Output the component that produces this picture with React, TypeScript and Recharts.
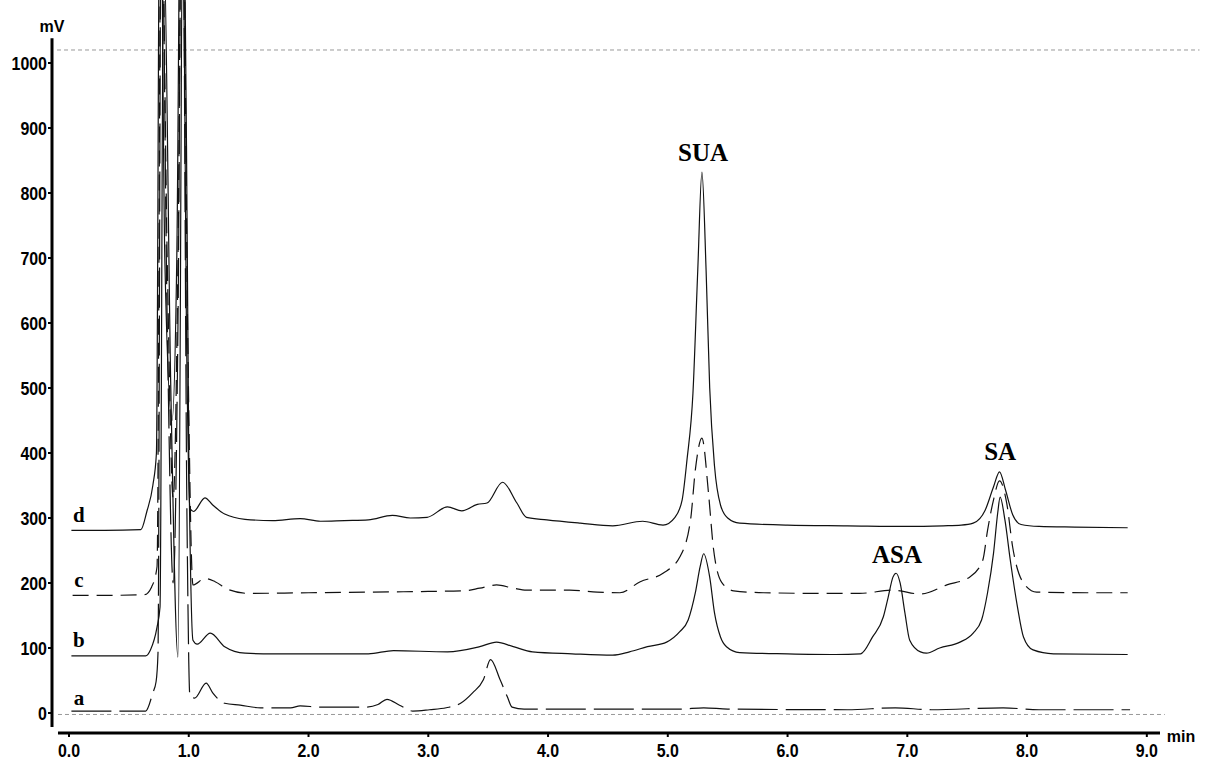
import { LineChart, Line, XAxis, YAxis, ReferenceLine, ReferenceDot } from 'recharts';

// time (min), signal (mV)
const traceA: [number, number][] = [
  [0.02, 3], [0.3, 3], [0.55, 3], [0.64, 3], [0.7, 31], [0.727, 48], [0.743, 92],
  [0.77, 1300], [0.82, 600], [0.87, 200], [0.91, 600], [0.945, 1400], [0.985, 300],
  [1.01, 25], [1.05, 23], [1.145, 46], [1.2, 31], [1.3, 15], [1.43, 12], [1.6, 8],
  [1.85, 8], [1.93, 11], [2.1, 9], [2.47, 9], [2.58, 13], [2.655, 21], [2.76, 12],
  [2.87, 3], [3.01, 5], [3.15, 8], [3.27, 15], [3.37, 31], [3.46, 51], [3.52, 82],
  [3.6, 51], [3.66, 25], [3.7, 9], [3.8, 6], [4.5, 6], [5.1, 6], [5.3, 8], [5.5, 6],
  [6.5, 5], [6.9, 8], [7.2, 5], [7.8, 8], [8.1, 5], [8.86, 5],
];

const traceB: [number, number][] = [
  [0.02, 88], [0.3, 88], [0.64, 88], [0.68, 97], [0.735, 132], [0.76, 163],
  [0.79, 1200], [0.85, 500], [0.91, 86], [0.955, 1400], [1.0, 400], [1.035, 112],
  [1.07, 106], [1.18, 123], [1.3, 102], [1.47, 92], [1.7, 91], [2.0, 91], [2.5, 91],
  [2.71, 96], [3.16, 94], [3.43, 102], [3.57, 109], [3.71, 102], [3.87, 94], [4.2, 91],
  [4.54, 89], [4.68, 94], [4.83, 102], [4.99, 109], [5.1, 125], [5.17, 143],
  [5.23, 185], [5.27, 225], [5.3, 245], [5.35, 209], [5.39, 154], [5.44, 117],
  [5.49, 102], [5.6, 93], [6.0, 91], [6.4, 90], [6.61, 91], [6.71, 117], [6.8, 148],
  [6.84, 178], [6.88, 209], [6.906, 215], [6.94, 200], [6.98, 154], [7.02, 112],
  [7.11, 94], [7.16, 92], [7.27, 100], [7.44, 109], [7.55, 123], [7.62, 143],
  [7.67, 185], [7.72, 246], [7.755, 308], [7.775, 332], [7.815, 297], [7.86, 235],
  [7.92, 163], [7.97, 117], [8.05, 97], [8.22, 91], [8.84, 90],
];

const traceC: [number, number][] = [
  [0.03, 181], [0.3, 181], [0.63, 182], [0.69, 194], [0.735, 225], [0.77, 1300],
  [0.82, 700], [0.87, 330], [0.91, 700], [0.945, 1400], [0.99, 600], [1.035, 197],
  [1.135, 207], [1.22, 202], [1.33, 190], [1.5, 184], [2.0, 185], [2.5, 186],
  [3.0, 187], [3.3, 188], [3.43, 192], [3.57, 197], [3.71, 192], [3.82, 189],
  [4.18, 189], [4.41, 186], [4.6, 185], [4.77, 202], [4.96, 215], [5.1, 240],
  [5.19, 297], [5.23, 374], [5.285, 423], [5.34, 338], [5.38, 255], [5.45, 201],
  [5.55, 188], [5.8, 185], [6.3, 184], [6.6, 184], [6.88, 189], [7.11, 183],
  [7.33, 197], [7.52, 209], [7.63, 235], [7.67, 281], [7.72, 328], [7.77, 357],
  [7.83, 323], [7.88, 255], [7.97, 200], [8.08, 186], [8.5, 185], [8.84, 185],
];

const traceD: [number, number][] = [
  [0.02, 281], [0.3, 281], [0.6, 282], [0.65, 310], [0.7, 350], [0.73, 400],
  [0.76, 1400], [0.8, 700], [0.86, 450], [0.9, 700], [0.94, 1500], [0.98, 600],
  [1.01, 315], [1.04, 310], [1.135, 331], [1.2, 320], [1.3, 306], [1.47, 298],
  [1.7, 296], [1.93, 299], [2.1, 295], [2.3, 296], [2.5, 297], [2.7, 304], [2.85, 300],
  [2.99, 301], [3.16, 317], [3.28, 311], [3.41, 321], [3.49, 323], [3.62, 355],
  [3.74, 323], [3.82, 301], [3.99, 297], [4.27, 292], [4.54, 288], [4.79, 295],
  [4.96, 289], [5.06, 301], [5.12, 328], [5.16, 389], [5.21, 492], [5.25, 680],
  [5.285, 832], [5.32, 680], [5.35, 500], [5.39, 380], [5.44, 320], [5.5, 300],
  [5.6, 292], [6.0, 289], [6.5, 288], [7.0, 287], [7.3, 288], [7.45, 289],
  [7.55, 292], [7.65, 312], [7.72, 348], [7.77, 371], [7.82, 343], [7.88, 305],
  [7.95, 290], [8.1, 287], [8.4, 286], [8.84, 285],
];

const xTicks = [0, 1, 2, 3, 4, 5, 6, 7, 8, 9];
const yTicks = [0, 100, 200, 300, 400, 500, 600, 700, 800, 900, 1000];

const traceLabels = [
  { text: 'a', t: 0.083, mv: 12 },
  { text: 'b', t: 0.083, mv: 101 },
  { text: 'c', t: 0.083, mv: 194 },
  { text: 'd', t: 0.083, mv: 294 },
];

const peakLabels = [
  { text: 'SUA', t: 5.294, mv: 849 },
  { text: 'ASA', t: 6.914, mv: 231 },
  { text: 'SA', t: 7.775, mv: 389 },
];

const X_MIN = -0.142;
const X_MAX = 9.11;
const Y_MIN = -30.8;
const Y_MAX = 1096.9;

const toRows = (pairs: [number, number][]) => pairs.map(([t, mv]) => ({ t, mv }));

const SERIF = "'Liberation Serif', 'Times New Roman', serif";
const SANS = "'Liberation Sans', Arial, sans-serif";

// condensed bold numbers, like the instrument software prints them
function NarrowTick(props: any) {
  const { x, y, payload, textAnchor, axis } = props;
  const label = axis === 'x' ? Number(payload.value).toFixed(1) : String(payload.value);
  return (
    <g transform={`translate(${x},${y}) scale(0.84,1)`}>
      <text
        x={0}
        y={0}
        dy={axis === 'x' ? '0.71em' : '0.355em'}
        textAnchor={textAnchor}
        fontSize={19}
        fontWeight="bold"
        fontFamily={SANS}
        fill="#000"
      >
        {label}
      </text>
    </g>
  );
}

function textLabel(value: string, size: number, family: string) {
  return {
    content: (props: any) => {
      const vb = props.viewBox || {};
      const x = (vb.x ?? 0) + (vb.width ?? 0) / 2;
      const y = (vb.y ?? 0) + (vb.height ?? 0) / 2;
      return (
        <text x={x} y={y} textAnchor="middle" fontSize={size} fontWeight="bold" fontFamily={family} fill="#000">
          {value}
        </text>
      );
    },
  };
}

export default function App() {
  const lineProps = {
    dataKey: 'mv',
    type: 'monotone' as const,
    dot: false,
    activeDot: false,
    isAnimationActive: false,
    stroke: '#111',
    strokeWidth: 1.2,
  };

  return (
    <div style={{ position: 'absolute', left: 0, top: 0, background: '#fff' }}>
      <LineChart width={1207} height={763} margin={{ top: 0, right: 47, bottom: 0, left: 0 }}>
        <XAxis
          type="number"
          dataKey="t"
          domain={[X_MIN, X_MAX]}
          ticks={xTicks}
          allowDataOverflow
          axisLine={false}
          tickLine={{ stroke: '#000', strokeWidth: 2 }}
          tickSize={4}
          tickMargin={6}
          height={30}
          tick={(p: any) => <NarrowTick {...p} axis="x" />}
        />
        <YAxis
          type="number"
          domain={[Y_MIN, Y_MAX]}
          ticks={yTicks}
          allowDataOverflow
          axisLine={false}
          tickLine={{ stroke: '#000', strokeWidth: 2 }}
          tickSize={4}
          tickMargin={1}
          width={52}
          tick={(p: any) => <NarrowTick {...p} axis="y" />}
        />

        {/* dashed guide lines at top and at zero */}
        <ReferenceLine
          segment={[{ x: -0.1, y: 1020 }, { x: 9.44, y: 1020 }]}
          stroke="#999"
          strokeDasharray="4 3"
          ifOverflow="visible"
        />
        <ReferenceLine
          segment={[{ x: -0.092, y: -2.3 }, { x: 9.15, y: -2.3 }]}
          stroke="#999"
          strokeDasharray="4 3"
          ifOverflow="visible"
        />

        <Line {...lineProps} data={toRows(traceA)} strokeDasharray="40 8" />
        <Line {...lineProps} data={toRows(traceB)} />
        <Line {...lineProps} data={toRows(traceC)} strokeDasharray="16 8" />
        <Line {...lineProps} data={toRows(traceD)} />

        {/* axis lines, drawn separately so they do not meet at the corner */}
        <ReferenceLine
          segment={[{ x: X_MIN, y: -21.5 }, { x: X_MIN, y: 1038 }]}
          stroke="#000"
          strokeWidth={3}
          ifOverflow="visible"
        />
        <ReferenceLine
          segment={[{ x: -0.092, y: Y_MIN }, { x: X_MAX, y: Y_MIN }]}
          stroke="#000"
          strokeWidth={3}
          ifOverflow="visible"
        />

        <ReferenceDot x={X_MIN} y={1048} r={1} fill="none" stroke="none" ifOverflow="visible" label={textLabel('mV', 16, SANS)} />
        <ReferenceDot x={9.286} y={-44.6} r={1} fill="none" stroke="none" ifOverflow="visible" label={textLabel('min', 16, SANS)} />

        {traceLabels.map((l) => (
          <ReferenceDot key={l.text} x={l.t} y={l.mv} r={1} fill="none" stroke="none" ifOverflow="visible" label={textLabel(l.text, 21, SERIF)} />
        ))}
        {peakLabels.map((l) => (
          <ReferenceDot key={l.text} x={l.t} y={l.mv} r={1} fill="none" stroke="none" ifOverflow="visible" label={textLabel(l.text, 25, SERIF)} />
        ))}
      </LineChart>
    </div>
  );
}
